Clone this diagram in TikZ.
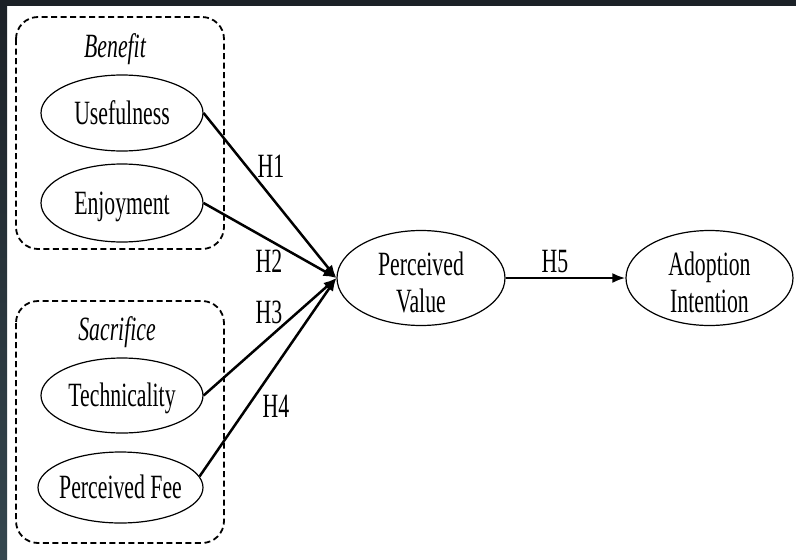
\documentclass[tikz,border=0pt]{standalone}
\usepackage{fontspec}
\setmainfont{Liberation Serif}[FakeStretch=0.64]
\usetikzlibrary{arrows.meta,shapes.geometric}
\definecolor{frameA}{HTML}{1C2127}
\definecolor{frameB}{HTML}{35474F}
\newcommand\oneline[1]{\makebox[0pt]{\raisebox{-11pt}[0pt][0pt]{#1}}}
\newcommand\twolines[2]{\makebox[0pt]{\raisebox{3pt}[0pt][0pt]{#1}}\makebox[0pt]{\raisebox{-34pt}[0pt][0pt]{#2}}}
\begin{document}
\begin{tikzpicture}[x=1pt,y=-1pt,
  var/.style={ellipse,draw,line width=1.2pt,inner sep=0pt,minimum width=162pt,minimum height=76pt,
    font=\fontsize{34}{37}\selectfont},
  grp/.style={draw,dashed,dash pattern=on 6pt off 3.5pt,line width=1.8pt,rounded corners=22pt},
  hyp/.style={font=\fontsize{34}{37}\selectfont,inner sep=0pt,anchor=base},
  ttl/.style={font=\fontsize{34}{37}\selectfont\itshape,inner sep=0pt,anchor=base},
  conn/.style={line width=2.5pt,-{Latex[length=13pt,width=10pt]}}]
\useasboundingbox (0,0) rectangle (796,560);
\fill[white] (0,0) rectangle (796,560);
\shade[top color=frameA,bottom color=frameB] (0,0) rectangle (7,560);
\fill[frameA] (0,0) rectangle (796,6);
% groups
\draw[grp] (16,17) rectangle (224,249);
\draw[grp] (16,301) rectangle (224,543);
\node[ttl] (tb) at (115,57) {Benefit};
\node[ttl] (ts) at (117,340) {Sacrifice};
% variables
\node[var] (use) at (122,113) {\oneline{Usefulness}};
\node[var,minimum height=78pt] (enj) at (122,203) {\oneline{Enjoyment}};
\node[var,minimum height=75pt] (tec) at (122,395.5) {\oneline{Technicality}};
\node[var,minimum width=165pt,minimum height=71pt] (fee) at (120.5,487.5) {\oneline{Perceived Fee}};
\node[var,minimum width=168pt,minimum height=95pt] (pv) at (421,278) {\twolines{Perceived}{Value}};
\node[var,minimum width=167pt,minimum height=95pt] (ai) at (709.5,278) {\twolines{Adoption}{Intention}};
% connectors
\draw[conn] (use.east) -- (pv.west);
\draw[conn] (enj.east) -- (pv.west);
\draw[conn] (tec.east) -- (pv.west);
\draw[conn] (fee.8) -- (pv.west);
\draw[conn] (pv.east) -- (ai.west);
% labels
\node[hyp] (h1) at (271,177) {H1};
\node[hyp] (h2) at (269,272) {H2};
\node[hyp] (h3) at (269,323) {H3};
\node[hyp] (h4) at (276,417) {H4};
\node[hyp] (h5) at (555,272) {H5};
\end{tikzpicture}
\end{document}
